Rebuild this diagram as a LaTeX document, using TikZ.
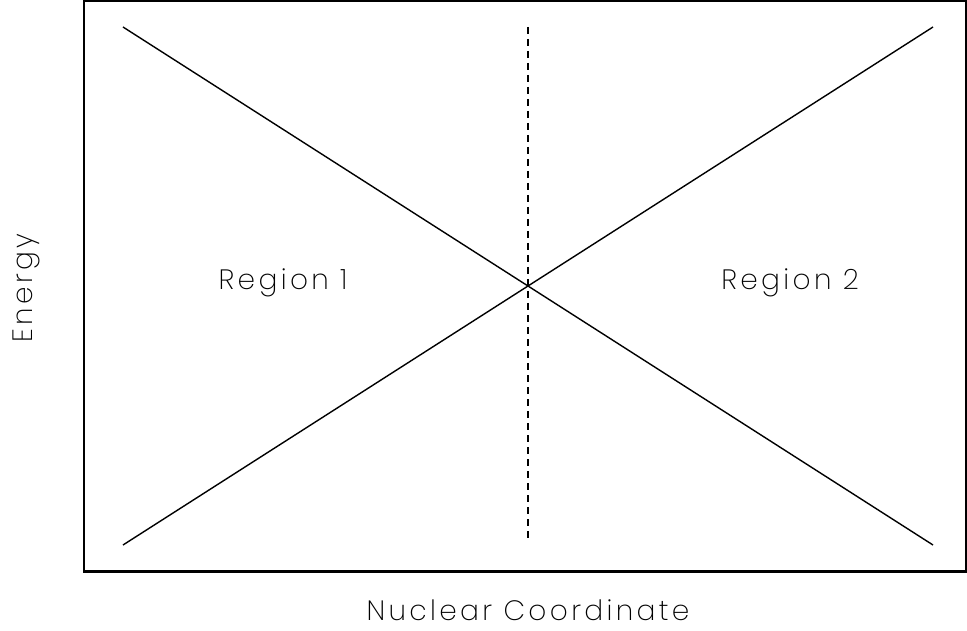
\documentclass[tikz,border=0pt]{standalone}
\usepackage{fontspec}
\setmainfont{Poppins}[UprightFont=* ExtraLight,LetterSpace=12]
\begin{document}
\begin{tikzpicture}[x=1pt,y=-1pt,
  frame/.style={draw=black,line width=2.4pt},
  curve/.style={draw=black,line width=1.4pt},
  divider/.style={draw=black,line width=1.4pt,dash pattern=on 7pt off 5pt},
  lbl/.style={font=\fontsize{28}{33}\selectfont,inner sep=0pt}]
\useasboundingbox (0,0) rectangle (967,631);
\draw[frame] (84,1.2) rectangle (965.8,571.5);
\coordinate (a1) at (123,27);
\coordinate (a2) at (933,545);
\coordinate (b1) at (123,545);
\coordinate (b2) at (933,27);
\coordinate (d1) at (528,27);
\coordinate (d2) at (528,541);
\draw[curve] (a1) -- (a2);
\draw[curve] (b1) -- (b2);
\draw[divider] (d1) -- (d2);
\node[lbl] (r1) at (283,283) {Region 1};
\node[lbl] (r2) at (790,283) {Region 2};
\node[lbl] (x) at (528,610) {Nuclear Coordinate};
\node[lbl,rotate=90] (y) at (26,288) {Energy};
\end{tikzpicture}
\end{document}
